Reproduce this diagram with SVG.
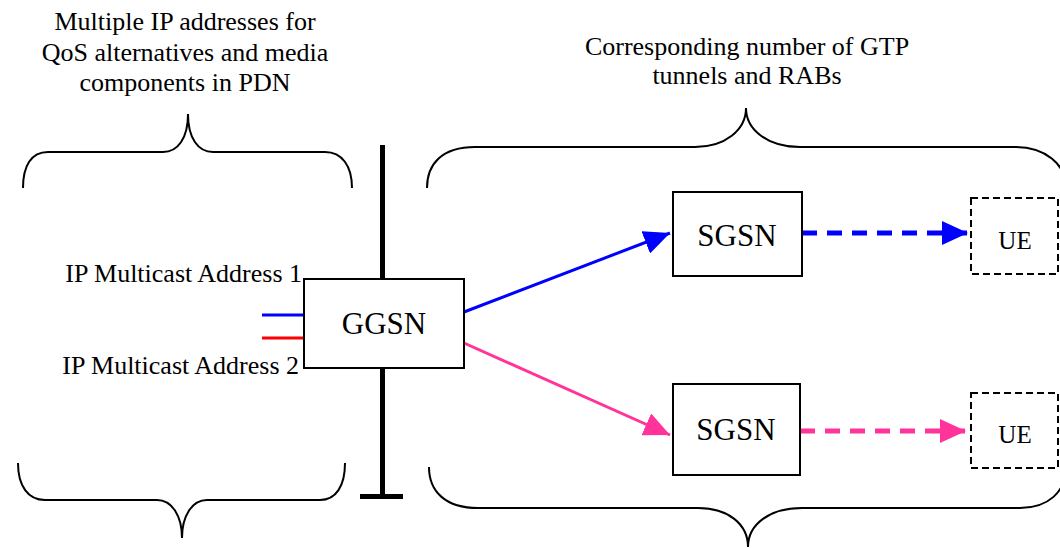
<svg xmlns="http://www.w3.org/2000/svg" width="1060" height="548" viewBox="0 0 1060 548">
<style>
text{font-family:"Liberation Serif","Times New Roman",serif;fill:#000}
.hdr{font-size:26px;text-anchor:middle}
.lbl{font-size:26px;text-anchor:end}
.box{fill:#fff;stroke:#000;stroke-width:2}
.ue{fill:#fff;stroke:#000;stroke-width:2;stroke-dasharray:7 4}
.brace{fill:none;stroke:#000;stroke-width:2}
.node{font-size:31px;text-anchor:middle}
.uet{font-size:25px;text-anchor:middle}
</style>
<defs>
<marker id="ab" markerUnits="userSpaceOnUse" markerWidth="26" markerHeight="24" refX="26" refY="12" orient="auto"><path d="M0,0 L26,12 L0,24 z" fill="#0000FF"/></marker>
<marker id="ap" markerUnits="userSpaceOnUse" markerWidth="26" markerHeight="24" refX="26" refY="12" orient="auto"><path d="M0,0 L26,12 L0,24 z" fill="#FF3399"/></marker>
</defs>
<g id="headers">
<text class="hdr" x="185" y="30">Multiple IP addresses for</text>
<text class="hdr" x="185" y="61">QoS alternatives and media</text>
<text class="hdr" x="185" y="91">components in PDN</text>
<text class="hdr" x="747" y="55">Corresponding number of GTP</text>
<text class="hdr" x="747" y="84">tunnels and RABs</text>
</g>
<g id="braces">
<path class="brace" d="M23,188 C23,166 31,152 48,152 L163,152 C178,152 188,138 188,114 C188,138 198,152 213,152 L325,152 C342,152 352,166 352,188"/>
<path class="brace" d="M18,463 C18,486 28,500 45,500 L157,500 C172,500 182,516 182,538 C182,516 192,500 207,500 L320,500 C336,500 345,486 345,463"/>
<path class="brace" d="M427,188 C427,164 442,147 475,147 L695,147 C725,147 746,130 746,108 C746,130 768,147 800,147 L1015,147 C1045,147 1066,164 1066,188"/>
<path class="brace" d="M429,467 C429,492 446,508 478,508 L698,508 C728,508 748,524 748,547 C748,524 770,508 802,508 L1020,508 C1048,508 1066,492 1066,467"/>
</g>
<g id="pdn-bar">
<rect x="380" y="145" width="5" height="354" fill="#000"/>
<rect x="360" y="494" width="43" height="5" fill="#000"/>
</g>
<g id="ip-labels">
<text class="lbl" x="302" y="282">IP Multicast Address 1</text>
<text class="lbl" x="299" y="374">IP Multicast Address 2</text>
</g>
<g id="connectors">
<line x1="262" y1="315" x2="305" y2="315" stroke="#0000FF" stroke-width="3"/>
<line x1="262" y1="338" x2="305" y2="338" stroke="#FF0000" stroke-width="3"/>
<line x1="464" y1="312" x2="670" y2="233" stroke="#0000FF" stroke-width="3" marker-end="url(#ab)"/>
<line x1="464" y1="343" x2="670" y2="435" stroke="#FF3399" stroke-width="3" marker-end="url(#ap)"/>
<line x1="802" y1="233" x2="968" y2="233" stroke="#0000FF" stroke-width="5" stroke-dasharray="15 10" marker-end="url(#ab)"/>
<line x1="800" y1="431" x2="966" y2="431" stroke="#FF3399" stroke-width="5" stroke-dasharray="15 10" marker-end="url(#ap)"/>
</g>
<g id="ggsn">
<rect class="box" x="304" y="279" width="160" height="89"/>
<text class="node" x="384" y="334">GGSN</text>
</g>
<g id="sgsn1">
<rect class="box" x="673" y="192" width="129" height="84"/>
<text class="node" x="737" y="246">SGSN</text>
</g>
<g id="sgsn2">
<rect class="box" x="673" y="384" width="127" height="91"/>
<text class="node" x="736" y="440">SGSN</text>
</g>
<g id="ue1">
<rect class="ue" x="971" y="198" width="87" height="76"/>
<text class="uet" x="1015" y="249">UE</text>
</g>
<g id="ue2">
<rect class="ue" x="971" y="393" width="87" height="75"/>
<text class="uet" x="1015" y="443">UE</text>
</g>
</svg>
